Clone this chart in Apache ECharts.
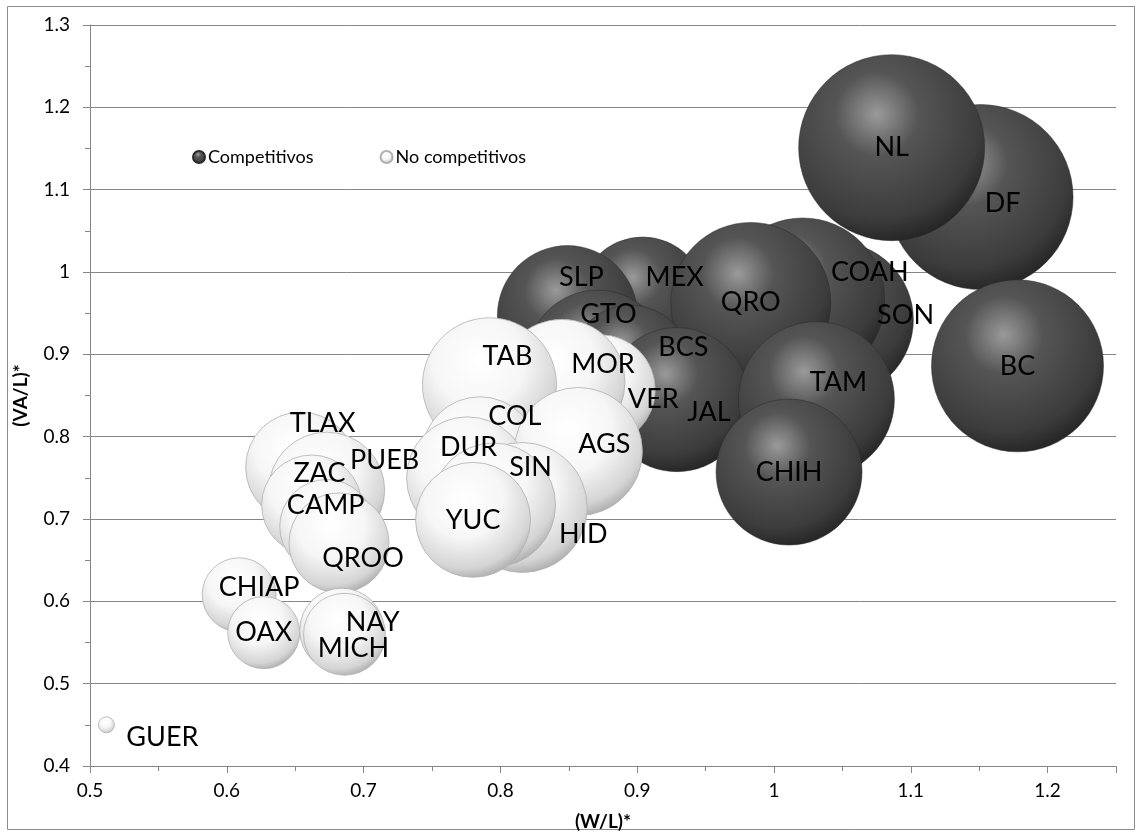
<!DOCTYPE html>
<html>
<head>
<meta charset="utf-8">
<script src="https://cdn.jsdelivr.net/npm/echarts@6/dist/echarts.min.js"></script>
<style>
html,body{margin:0;padding:0;background:#fff;}
#c{width:1142px;height:833px;}
</style>
</head>
<body>
<div id="c"></div>
<script>
// ---- data ----
const compNames = ['DF','NL','BC','SON','COAH','MEX','QRO','SLP','GTO','BCS','JAL','TAM','CHIH'];
const compX     = [1.151,1.086,1.178,1.045,1.021,0.904,0.983,0.849,0.871,0.895,0.929,1.031,1.011];
const compY     = [1.091,1.151,0.886,0.942,0.966,0.966,0.963,0.947,0.893,0.887,0.845,0.845,0.757];
const compSize  = [98.9,100,85.5,70,77.7,45.9,74,56.7,56.7,41.6,60,70.3,61.6];

const noCompNames = ['VER','MOR','TAB','COL','AGS','DUR','HID','SIN','YUC','TLAX','PUEB','ZAC','CAMP','QROO','CHIAP','OAX','NAY','MICH','GUER'];
const noCompX     = [0.873,0.845,0.792,0.785,0.857,0.776,0.816,0.795,0.780,0.654,0.673,0.662,0.673,0.682,0.609,0.627,0.684,0.686,0.512];
const noCompY     = [0.857,0.866,0.863,0.778,0.782,0.750,0.714,0.717,0.699,0.763,0.735,0.717,0.691,0.671,0.608,0.562,0.565,0.560,0.450];
const noCompSize  = [35,45.9,51.9,38.9,47.4,43,48.8,44.4,38.2,35,38.9,28.9,25.5,28.9,15.8,15,20.4,19.4,0.74];

const xTicks = [0.5,0.6,0.7,0.8,0.9,1,1.1,1.2];
const yTicks = [0.4,0.5,0.6,0.7,0.8,0.9,1,1.1,1.2,1.3];

// ---- styling: label offsets (px) ----
const compLabelOffset = {DF:[22,6],TAM:[22,-17],SON:[70,-4],COAH:[67,-28],MEX:[32,-23],SLP:[14,-38],GTO:[11,-46],BCS:[53,-18],JAL:[32,13]};
const noCompLabelOffset = {VER:[53,10],MOR:[41,-18],TAB:[18,-28],COL:[35,-38],AGS:[26,-7],DUR:[1,-31],HID:[61,27],SIN:[37,-38],TLAX:[22,-44],PUEB:[58,-30],ZAC:[8,-32],CAMP:[-1,-21],QROO:[24,15],CHIAP:[20,-7],NAY:[31,-8],MICH:[9,14],GUER:[56,12]};

function build(names, xs, ys, ss, offs){
  return names.map((n,i)=>({
    name:n,
    value:[xs[i],ys[i],ss[i]],
    label:{offset: offs[n] || [0,0]}
  }));
}

const darkFill = {type:'radial',x:0.42,y:0.32,r:0.75,colorStops:[
  {offset:0,color:'#9a9a9a'},{offset:0.3,color:'#555555'},{offset:0.75,color:'#3c3c3c'},{offset:1,color:'#1c1c1c'}]};
const lightFill = {type:'radial',x:0.42,y:0.32,r:0.75,colorStops:[
  {offset:0,color:'#ffffff'},{offset:0.45,color:'#f6f6f6'},{offset:0.8,color:'#d4d4d4'},{offset:1,color:'#9a9a9a'}]};

const FONT = 'Lato, "Open Sans", sans-serif';
const sizeFn = v => 186*Math.sqrt(v[2]/100);

const labelCfg = {show:true,position:'inside',formatter:p=>p.name,color:'#000',fontFamily:FONT,fontSize:27};

const chart = echarts.init(document.getElementById('c'),null,{renderer:'canvas'});
chart.setOption({
  animation:false,
  backgroundColor:'#fff',
  graphic:[{type:'rect',shape:{x:7.5,y:6.5,width:1127,height:823},style:{fill:'none',stroke:'#8c8c8c',lineWidth:1},silent:true}],
  grid:{left:90,top:25,right:26,bottom:67,containLabel:false,outerBoundsMode:'none'},
  legend:{
    data:['Competitivos','No competitivos'],
    left:187,top:143,icon:'circle',itemWidth:12,itemHeight:12,itemGap:66,
    textStyle:{fontFamily:FONT,fontSize:18,color:'#000',padding:[0,0,0,-2]}
  },
  xAxis:{
    type:'value',min:0.5,max:1.25,interval:0.1,
    name:'(W/L)*',nameLocation:'middle',nameGap:46,
    nameTextStyle:{fontFamily:FONT,fontSize:19,fontWeight:'bold',color:'#000'},
    axisLine:{show:true,onZero:false,lineStyle:{color:'#868686',width:1}},
    axisTick:{show:true,inside:false,length:7,lineStyle:{color:'#868686'}},
    minorTick:{show:true,splitNumber:2,length:5,lineStyle:{color:'#868686'}},
    splitLine:{show:false},
    axisLabel:{margin:15,fontFamily:FONT,fontSize:19,color:'#000',
      formatter:v=>{const r=Math.round(v*100)/100; return xTicks.some(t=>Math.abs(t-r)<1e-6)?String(Math.round(v*10)/10):'';}}
  },
  yAxis:{
    type:'value',min:0.4,max:1.3,interval:0.1,
    name:'(VA/L)*',nameLocation:'middle',nameGap:60,nameRotate:90,
    nameTextStyle:{fontFamily:FONT,fontSize:19,fontWeight:'bold',color:'#000'},
    axisLine:{show:true,onZero:false,lineStyle:{color:'#868686',width:1}},
    axisTick:{show:true,inside:false,length:7,lineStyle:{color:'#868686'}},
    minorTick:{show:true,splitNumber:2,length:5,lineStyle:{color:'#868686'}},
    splitLine:{show:true,lineStyle:{color:'#868686',width:1}},
    axisLabel:{margin:20,fontFamily:FONT,fontSize:19,color:'#000',
      formatter:v=>{const r=Math.round(v*10)/10; return yTicks.includes(r)?String(r):'';}}
  },
  series:[
    {name:'Competitivos',type:'scatter',symbol:'circle',symbolSize:sizeFn,
     itemStyle:{color:darkFill,borderColor:'#2a2a2a',borderWidth:0.5,opacity:1},
     label:labelCfg,emphasis:{disabled:true},
     data:build(compNames,compX,compY,compSize,compLabelOffset)},
    {name:'No competitivos',type:'scatter',symbol:'circle',symbolSize:sizeFn,
     itemStyle:{color:lightFill,borderColor:'#b0b0b0',borderWidth:0.8,opacity:1},
     label:labelCfg,emphasis:{disabled:true},
     data:build(noCompNames,noCompX,noCompY,noCompSize,noCompLabelOffset)}
  ]
});
</script>
</body>
</html>
